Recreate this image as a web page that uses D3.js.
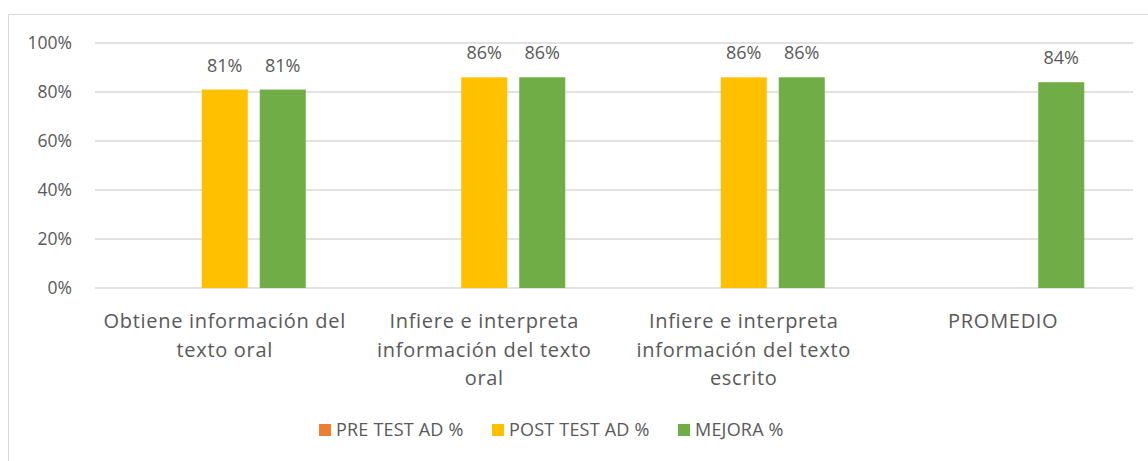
<!DOCTYPE html>
<html>
<head>
<meta charset="utf-8">
<script src="https://cdn.jsdelivr.net/npm/d3@7"></script>
<style>
  body { margin: 0; background: #fff; }
  svg { display: block; font-family: "Open Sans", sans-serif; }
</style>
</head>
<body>
<svg id="chart" width="1148" height="461"></svg>
<script>
const categories = ["C1", "C2", "C3", "C4"];
const categoryLabels = [
    ["Obtiene información del", "texto oral"],
    ["Infiere e interpreta", "información del texto", "oral"],
    ["Infiere e interpreta", "información del texto", "escrito"],
    ["PROMEDIO"]
];
const seriesNames = ["PRE TEST AD %", "POST TEST AD %", "MEJORA %"];
const seriesColors = ["#ED7D31", "#FFC000", "#70AD47"];
const preTest = [0, 0, 0, null];
const postTest = [0.81, 0.86, 0.86, null];
const mejora = [0.81, 0.86, 0.86, 0.84];
const yTicks = [0, 0.2, 0.4, 0.6, 0.8, 1.0];

const seriesValues = [preTest, postTest, mejora];
const svg = d3.select("#chart");
const textColor = "#595959";

// chart frame (cropped at right and bottom)
svg.append("path")
    .attr("d", "M8.5,461 L8.5,14.5 L1148,14.5")
    .attr("fill", "none")
    .attr("stroke", "#d9d9d9")
    .attr("stroke-width", 1);

const x0 = d3.scaleBand().domain(categories).range([95, 1133]);
const x1 = d3.scaleBand().domain(seriesNames).range([-81, 81]).paddingInner(12 / 58);
const y = d3.scaleLinear().domain([0, 1]).range([288, 43]);

// gridlines
svg.append("g")
    .selectAll("line")
    .data(yTicks)
    .enter()
    .append("line")
    .attr("x1", 95)
    .attr("x2", 1133)
    .attr("y1", d => y(d))
    .attr("y2", d => y(d))
    .attr("stroke", "#d9d9d9")
    .attr("stroke-width", 1.5);

// y tick labels
svg.append("g")
    .selectAll("text")
    .data(yTicks)
    .enter()
    .append("text")
    .attr("x", 72)
    .attr("y", d => y(d))
    .attr("dy", "0.35em")
    .attr("text-anchor", "end")
    .attr("fill", textColor)
    .style("font-size", "17.5px")
    .text(d => d3.format(".0%")(d));

// bars
const groups = svg.append("g")
    .selectAll("g")
    .data(categories)
    .enter()
    .append("g")
    .attr("transform", d => `translate(${x0(d) + x0.bandwidth() / 2},0)`);

groups.each(function(cat, i) {
    const g = d3.select(this);
    const cells = seriesNames
        .map((s, j) => ({ s, v: seriesValues[j][i], color: seriesColors[j] }))
        .filter(d => d.v !== null);

    g.selectAll("rect")
        .data(cells)
        .enter()
        .append("rect")
        .attr("x", d => x1(d.s))
        .attr("width", x1.bandwidth())
        .attr("y", d => y(d.v))
        .attr("height", d => y(0) - y(d.v))
        .attr("fill", d => d.color);

    g.selectAll("text")
        .data(cells.filter(d => d.v > 0))
        .enter()
        .append("text")
        .attr("x", d => x1(d.s) + x1.bandwidth() / 2)
        .attr("y", d => y(d.v) - 18)
        .attr("text-anchor", "middle")
        .attr("fill", textColor)
        .style("font-size", "18px")
        .text(d => d3.format(".0%")(d.v));
});

// category labels
const catLabels = svg.append("g")
    .selectAll("text")
    .data(categories)
    .enter()
    .append("text")
    .attr("x", d => x0(d) + x0.bandwidth() / 2)
    .attr("y", 328)
    .attr("text-anchor", "middle")
    .attr("fill", textColor)
    .style("font-size", "20px")
    .style("letter-spacing", "0.7px");

catLabels.each(function(d, i) {
    d3.select(this).selectAll("tspan")
        .data(categoryLabels[i])
        .enter()
        .append("tspan")
        .attr("x", x0(d) + x0.bandwidth() / 2)
        .attr("dy", (t, k) => k === 0 ? 0 : 28.5)
        .text(t => t);
});

// legend
const legendX = [319, 492, 678];
const legend = svg.append("g")
    .selectAll("g")
    .data(seriesNames)
    .enter()
    .append("g")
    .attr("transform", (d, i) => `translate(${legendX[i]},424)`);

legend.append("rect")
    .attr("width", 12)
    .attr("height", 12)
    .attr("fill", (d, i) => seriesColors[i]);

legend.append("text")
    .attr("x", 17)
    .attr("y", 6)
    .attr("dy", "0.35em")
    .attr("fill", textColor)
    .style("font-size", "18px")
    .style("letter-spacing", "0.2px")
    .text(d => d);
</script>
</body>
</html>
